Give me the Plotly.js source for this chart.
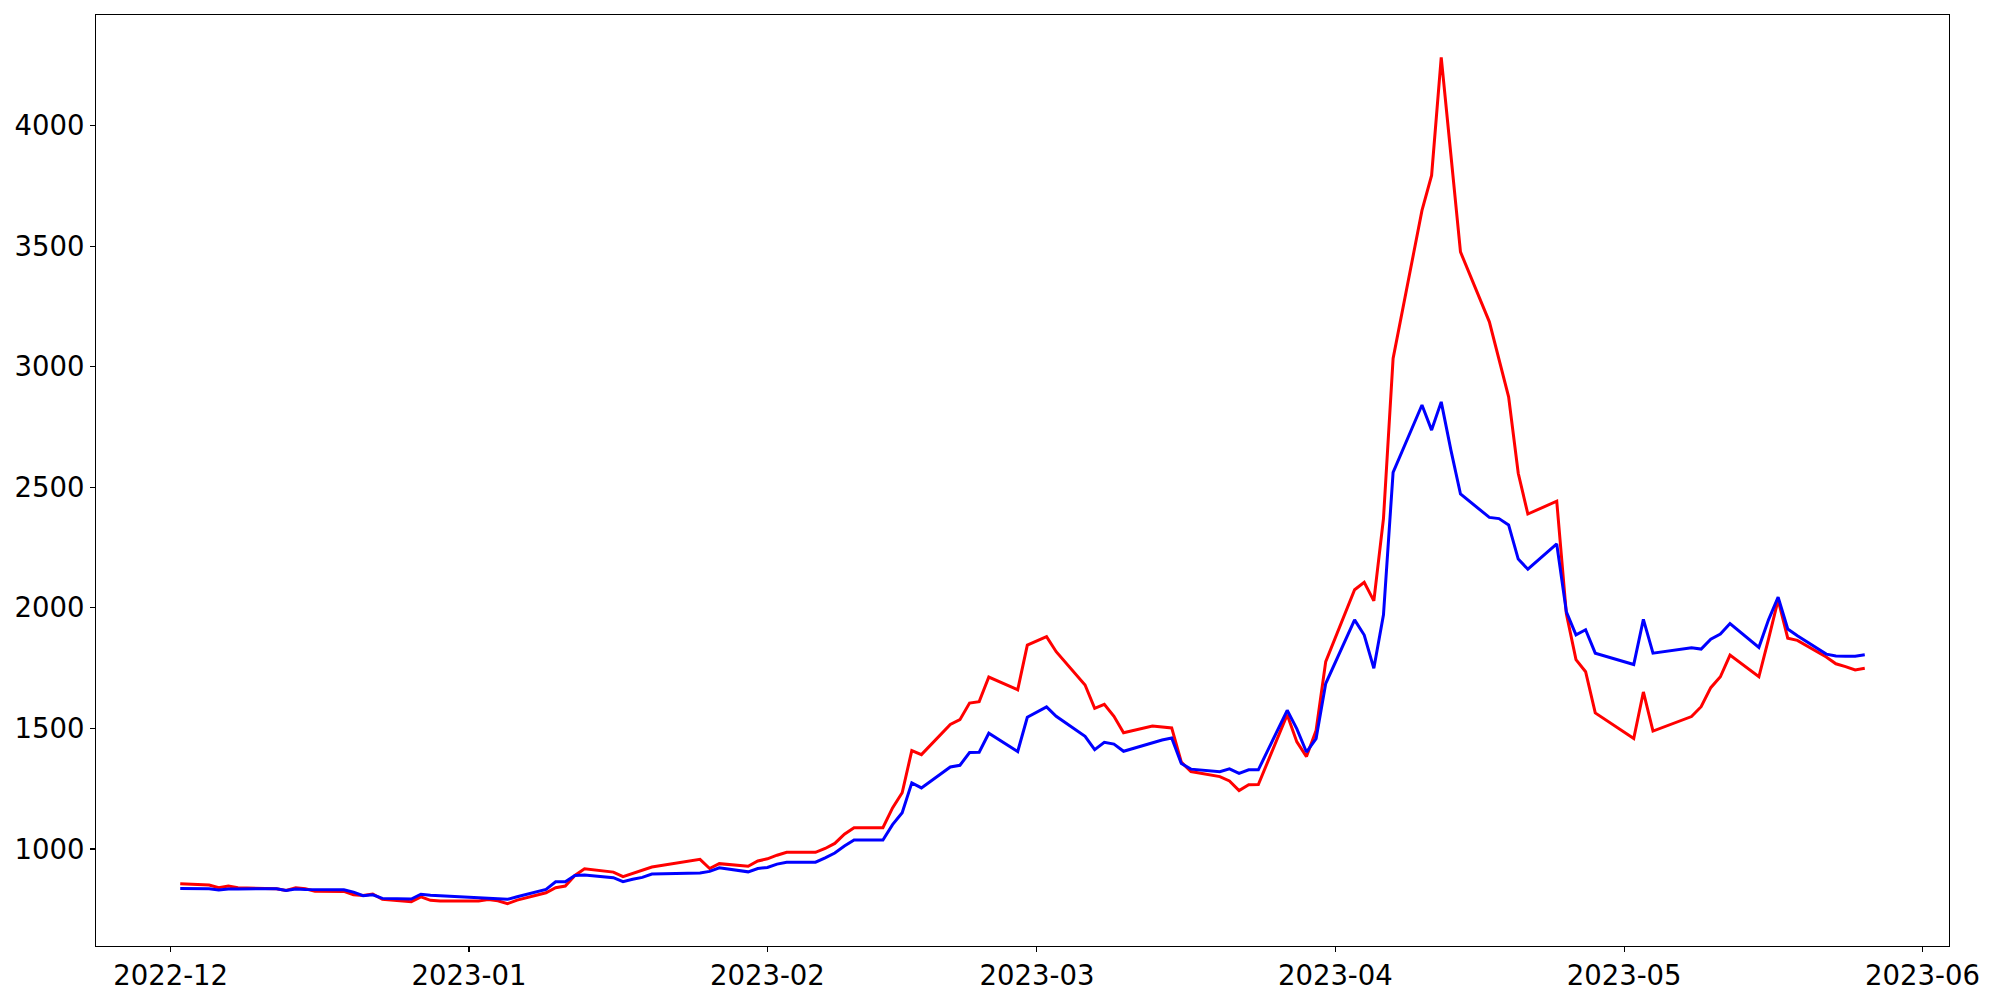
<!DOCTYPE html>
<html>
<head>
<meta charset="utf-8">
<script src="https://cdn.plot.ly/plotly-3.0.1.min.js"></script>
<style>
  html, body { margin: 0; padding: 0; background: #ffffff; }
  #chart { width: 2000px; height: 1000px; }
</style>
</head>
<body>
<div id="chart"></div>
<script>
// Trading dates
const dates = [
  "2022-12-02","2022-12-05","2022-12-06","2022-12-07","2022-12-08","2022-12-09",
  "2022-12-12","2022-12-13","2022-12-14","2022-12-15","2022-12-16",
  "2022-12-19","2022-12-20","2022-12-21","2022-12-22","2022-12-23",
  "2022-12-26","2022-12-27","2022-12-28","2022-12-29",
  "2023-01-02","2023-01-03","2023-01-04","2023-01-05","2023-01-06",
  "2023-01-09","2023-01-10","2023-01-11","2023-01-12","2023-01-13",
  "2023-01-16","2023-01-17","2023-01-18","2023-01-19","2023-01-20",
  "2023-01-25","2023-01-26","2023-01-27","2023-01-30","2023-01-31",
  "2023-02-01","2023-02-02","2023-02-03",
  "2023-02-06","2023-02-07","2023-02-08","2023-02-09","2023-02-10",
  "2023-02-13","2023-02-14","2023-02-15","2023-02-16","2023-02-17",
  "2023-02-20","2023-02-21","2023-02-22","2023-02-23","2023-02-24",
  "2023-02-27","2023-02-28","2023-03-02","2023-03-03",
  "2023-03-06","2023-03-07","2023-03-08","2023-03-09","2023-03-10",
  "2023-03-13","2023-03-14","2023-03-15","2023-03-16","2023-03-17",
  "2023-03-20","2023-03-21","2023-03-22","2023-03-23","2023-03-24",
  "2023-03-27","2023-03-28","2023-03-29","2023-03-30","2023-03-31",
  "2023-04-03","2023-04-04","2023-04-05","2023-04-06","2023-04-07",
  "2023-04-10","2023-04-11","2023-04-12","2023-04-13","2023-04-14",
  "2023-04-17","2023-04-18","2023-04-19","2023-04-20","2023-04-21",
  "2023-04-24","2023-04-25","2023-04-26","2023-04-27","2023-04-28",
  "2023-05-02","2023-05-03","2023-05-04",
  "2023-05-08","2023-05-09","2023-05-10","2023-05-11","2023-05-12",
  "2023-05-15","2023-05-16","2023-05-17","2023-05-18","2023-05-19",
  "2023-05-22","2023-05-23","2023-05-24","2023-05-25","2023-05-26"
];

// Red series
const redValues = [
  856, 850, 839, 846, 839, 838,
  835, 828, 839, 835, 825,
  824, 810, 807, 813, 791,
  781, 801, 787, 784,
  784, 790, 785, 773, 788,
  818, 839, 846, 890, 918,
  904, 885, 899, 910, 925,
  957, 919, 939, 928, 950,
  959, 974, 986,
  986, 1002, 1023, 1061, 1088,
  1088, 1170, 1233, 1408, 1391,
  1516, 1536, 1605, 1611, 1713,
  1660, 1845, 1880, 1818,
  1680, 1583, 1600, 1550, 1482,
  1510, 1506, 1502, 1360, 1321,
  1300, 1282, 1242, 1266, 1267,
  1557, 1444, 1383, 1491, 1777,
  2075, 2106, 2029, 2370, 3034,
  3648, 3793, 4283, 3880, 3476,
  3186, 3030, 2875, 2558, 2389,
  2442, 1975, 1785, 1735, 1564,
  1458, 1651, 1489,
  1549, 1590, 1669, 1714, 1804,
  1714, 1870, 2033, 1874, 1865,
  1796, 1768, 1756, 1742, 1749
];

// Blue series
const blueValues = [
  836, 835, 830, 834, 834, 835,
  835, 828, 834, 832, 831,
  831, 821, 806, 810, 795,
  792, 812, 808, 806,
  796, 795, 794, 791, 802,
  832, 864, 864, 890, 892,
  881, 864, 874, 882, 896,
  900, 907, 922, 905, 919,
  923, 937, 945,
  945, 963, 983, 1012, 1037,
  1037, 1101, 1150, 1274, 1253,
  1340, 1347, 1400, 1401, 1480,
  1404, 1546, 1589, 1550,
  1467, 1412, 1442, 1435, 1405,
  1442, 1452, 1460, 1354, 1331,
  1320, 1332, 1313, 1328, 1328,
  1575, 1498, 1402, 1457, 1686,
  1950, 1887, 1749, 1971, 2562,
  2841, 2737, 2854, 2655, 2472,
  2375, 2370, 2344, 2202, 2160,
  2265, 1983, 1888, 1909, 1812,
  1765, 1952, 1812,
  1834, 1829, 1870, 1891, 1935,
  1836, 1950, 2044, 1912, 1884,
  1808, 1800, 1799, 1799, 1805
];

// Axis ticks
const xTickVals = ["2022-12-01","2023-01-01","2023-02-01","2023-03-01","2023-04-01","2023-05-01","2023-06-01"];
const xTickText = ["2022-12","2023-01","2023-02","2023-03","2023-04","2023-05","2023-06"];
const yTickVals = [1000, 1500, 2000, 2500, 3000, 3500, 4000];
const yTickText = ["1000","1500","2000","2500","3000","3500","4000"];

const fontFamily = "DejaVu Sans, Liberation Sans, sans-serif";

const traces = [
  {
    x: dates, y: redValues, type: "scatter", mode: "lines",
    line: { color: "#ff0000", width: 3 }, showlegend: false, hoverinfo: "skip"
  },
  {
    x: dates, y: blueValues, type: "scatter", mode: "lines",
    line: { color: "#0000ff", width: 3 }, showlegend: false, hoverinfo: "skip"
  }
];

const axisCommon = {
  showgrid: false, zeroline: false,
  showline: true, mirror: true, linecolor: "#000000", linewidth: 1.1,
  ticks: "outside", ticklen: 5, tickwidth: 1.1, tickcolor: "#000000",
  tickfont: { family: fontFamily, size: 27.5, color: "#000000" }
};

const layout = {
  width: 2000, height: 1000,
  margin: { l: 96, r: 51, t: 15, b: 54, pad: 0 },
  paper_bgcolor: "#ffffff", plot_bgcolor: "#ffffff",
  showlegend: false,
  xaxis: Object.assign({}, axisCommon, {
    type: "date",
    range: ["2022-11-23 06:00", "2023-06-03 18:00"],
    tickmode: "array", tickvals: xTickVals, ticktext: xTickText
  }),
  yaxis: Object.assign({}, axisCommon, {
    range: [597.5, 4458.5],
    tickmode: "array", tickvals: yTickVals, ticktext: yTickText
  })
};

Plotly.newPlot("chart", traces, layout, { displayModeBar: false, staticPlot: true });
</script>
</body>
</html>
